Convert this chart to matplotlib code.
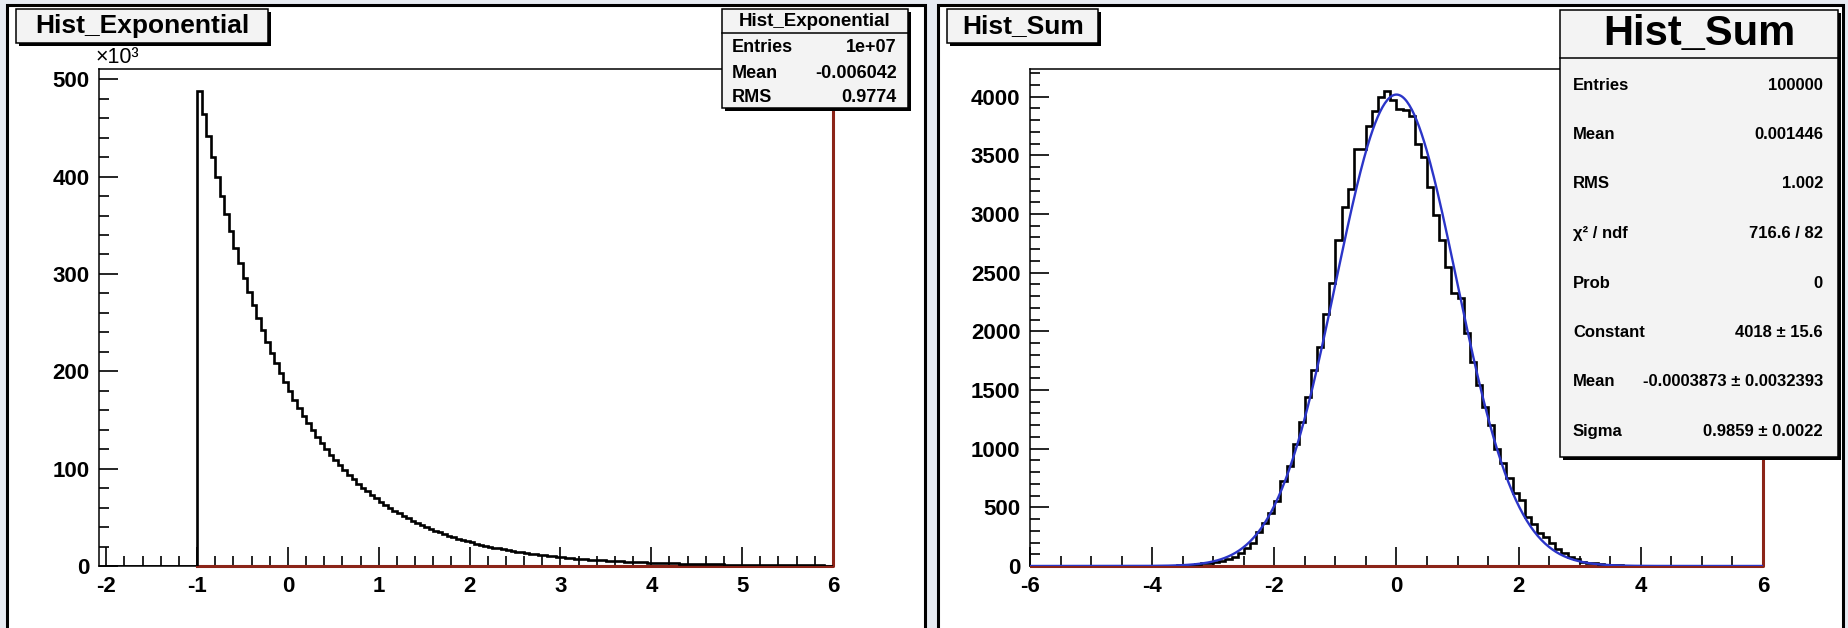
import numpy as np
import matplotlib
matplotlib.use("Agg")
from matplotlib import pyplot as plt
from matplotlib.patches import Rectangle
from matplotlib.ticker import MultipleLocator
from matplotlib.transforms import Bbox, TransformedBbox

plt.rcParams['font.family'] = ['Liberation Sans', 'DejaVu Sans']
plt.rcParams['font.weight'] = 'bold'
plt.rcParams['axes.unicode_minus'] = False

# ---- donnees ----

# Hist_Exponential : bins de 0.05 de -2 a 6, contenus en milliers
exp_debut = -2.0
exp_largeur = 0.05
exp_valeurs = [0.0] * 20 + [
    487.7, 463.9, 441.3, 419.8, 399.3, 379.8, 361.3, 343.7, 326.9, 311.0,
    295.8, 281.4, 267.6, 254.6, 242.2, 230.4, 219.1, 208.4, 198.3, 188.6,
    179.4, 170.7, 162.3, 154.4, 146.9, 139.7, 132.9, 126.4, 120.3, 114.4,
    108.8, 103.5, 98.5, 93.7, 89.1, 84.7, 80.6, 76.7, 72.9, 69.4,
    66.0, 62.8, 59.7, 56.8, 54.0, 51.4, 48.9, 46.5, 44.2, 42.1,
    40.0, 38.1, 36.2, 34.5, 32.8, 31.2, 29.7, 28.2, 26.8, 25.5,
    24.3, 23.1, 22.0, 20.9, 19.9, 18.9, 18.0, 17.1, 16.3, 15.5,
    14.7, 14.0, 13.3, 12.7, 12.1, 11.5, 10.9, 10.4, 9.9, 9.4,
    8.9, 8.5, 8.1, 7.7, 7.3, 7.0, 6.6, 6.3, 6.0, 5.7,
    5.4, 5.2, 4.9, 4.7, 4.4, 4.2, 4.0, 3.8, 3.6, 3.5,
    3.3, 3.1, 3.0, 2.8, 2.7, 2.6, 2.4, 2.3, 2.2, 2.1,
    2.0, 1.9, 1.8, 1.7, 1.6, 1.55, 1.5, 1.4, 1.3, 1.25,
    1.2, 1.15, 1.1, 1.0, 1.0, 0.95, 0.9, 0.85, 0.8, 0.78,
    0.73, 0.7, 0.66, 0.63, 0.6, 0.57, 0.54, 0.52, 0.49, 0.47]
exp_stats_noms = ["Entries", "Mean", "RMS"]
exp_stats_vals = ["1e+07", "-0.006042", "0.9774"]
# fonction rouge (plate a zero puis verticale a x=6)
rouge_exp_x = [-1.0, 6.0, 6.0]
rouge_exp_y = [0.0, 0.0, 1000.0]

# Hist_Sum : bins de 0.1 de -6 a 6
sum_debut = -6.0
sum_largeur = 0.1
sum_valeurs = [
    0, 0, 0, 0, 0, 0, 0, 0, 0, 0,
    0, 0, 0, 0, 0, 0, 0, 0, 0, 0,
    1, 1, 2, 3, 5, 7, 11, 17, 23, 28,
    37, 45, 60, 80, 114, 150, 193, 292, 369, 449,
    554, 727, 854, 1039, 1229, 1442, 1670, 1868, 2152, 2408,
    2777, 3061, 3217, 3550, 3558, 3751, 3878, 3998, 4049, 3975,
    3898, 3884, 3833, 3600, 3487, 3231, 2990, 2777, 2550, 2323,
    2280, 1990, 1740, 1542, 1357, 1201, 994, 875, 747, 619,
    562, 420, 358, 278, 250, 193, 142, 108, 80, 57,
    37, 28, 23, 17, 11, 8, 5, 4, 3, 2,
    1, 1, 0, 0, 1, 0, 0, 1, 1, 0,
    1, 0, 0, 0, 1, 0, 0, 1, 0, 0]
sum_stats_noms = ["Entries", "Mean", "RMS", "\u03c7\u00b2 / ndf", "Prob",
                  "Constant", "Mean", "Sigma"]
sum_stats_vals = ["100000", "0.001446", "1.002", "716.6 / 82", "0",
                  "4018 \u00b1 15.6", "-0.0003873 \u00b1 0.0032393",
                  "0.9859 \u00b1 0.0022"]
fit_constante = 4018.0
fit_moyenne = -0.0003873
fit_sigma = 0.9859
rouge_sum_x = [-6.0, 6.0, 6.0]
rouge_sum_y = [0.0, 0.0, 10000.0]

# ---- figure ----
L, H = 1849, 628
fig = plt.figure(figsize=(L / 100, H / 100), dpi=100)
fig.patch.set_facecolor('#e7ebf2')
ROUGE = '#8b2418'


def fx(px):
    return px / L


def fy(py):
    return 1 - py / H


def rect_px(x0, y0, x1, y1, **kw):
    r = Rectangle((fx(x0), fy(y1)), fx(x1) - fx(x0), fy(y0) - fy(y1),
                  transform=fig.transFigure, **kw)
    fig.add_artist(r)
    return r


def boite(x0, y0, x1, y1, fond='#f3f3f3'):
    # ombre puis boite
    rect_px(x0 + 3, y0 + 3, x1 + 3, y1 + 3, fc='black', ec='none', zorder=5)
    rect_px(x0, y0, x1, y1, fc=fond, ec='black', lw=1.1, zorder=6)


# pads
rect_px(7, 5, 925, 660, fc='white', ec='black', lw=2.2, zorder=-1)
rect_px(938, 5, 1843, 660, fc='white', ec='black', lw=2.2, zorder=-1)


def preparer_axe(ax):
    ax.set_facecolor('none')
    for s in ['left', 'top', 'bottom', 'right']:
        ax.spines[s].set_linewidth(1.1)
    ax.spines['right'].set_visible(False)
    ax.tick_params(which='both', direction='in', top=False, right=False,
                   labelsize=16, width=1.2, pad=7)
    ax.tick_params(which='major', length=14)
    ax.tick_params(which='minor', length=7)


def ligne_rouge(ax, x, y):
    # on laisse deborder un peu a droite et en bas pour garder toute l'epaisseur
    lig, = ax.plot(x, y, color=ROUGE, lw=2.2, zorder=2.6)
    lig.set_clip_box(TransformedBbox(Bbox([[0, -0.01], [1.01, 1]]),
                                     ax.transAxes))


# ---- Hist_Exponential ----
ax1 = fig.add_axes([fx(99), fy(566), fx(833) - fx(99), fy(69) - fy(566)])
preparer_axe(ax1)
bords = exp_debut + exp_largeur * np.arange(len(exp_valeurs) + 1)
ligne_rouge(ax1, rouge_exp_x, rouge_exp_y)
ax1.stairs(exp_valeurs, bords, color='black', lw=1.9, baseline=0, zorder=3)
ax1.set_xlim(-2.08, 6)
ax1.set_ylim(0, 510.5)
ax1.xaxis.set_major_locator(MultipleLocator(1))
ax1.xaxis.set_minor_locator(MultipleLocator(0.2))
ax1.yaxis.set_major_locator(MultipleLocator(100))
ax1.yaxis.set_minor_locator(MultipleLocator(20))
fig.text(fx(96), fy(68), '\u00d710\u00b3', fontsize=15.5, fontweight='normal',
         ha='left', va='bottom')

boite(16, 9, 268, 43)
fig.text(fx(142), fy(26), 'Hist_Exponential', fontsize=19, ha='center',
         va='center', zorder=7)

boite(722, 9, 908, 108)
fig.add_artist(plt.Line2D([fx(722), fx(908)], [fy(33), fy(33)],
                          transform=fig.transFigure, color='black', lw=1.1,
                          zorder=7))
fig.text(fx(815), fy(21), 'Hist_Exponential', fontsize=13.5, ha='center',
         va='center', zorder=7)
for k, (nom, val) in enumerate(zip(exp_stats_noms, exp_stats_vals)):
    yy = fy(48 + 25 * k)
    fig.text(fx(732), yy, nom, fontsize=13, ha='left', va='center', zorder=7)
    fig.text(fx(897), yy, val, fontsize=13, ha='right', va='center', zorder=7)

# ---- Hist_Sum ----
ax2 = fig.add_axes([fx(1030), fy(566), fx(1763) - fx(1030), fy(69) - fy(566)])
preparer_axe(ax2)
bords2 = sum_debut + sum_largeur * np.arange(len(sum_valeurs) + 1)
ligne_rouge(ax2, rouge_sum_x, rouge_sum_y)
ax2.stairs(sum_valeurs, bords2, color='black', lw=1.9, baseline=0, zorder=3)
xf = np.linspace(sum_debut, -sum_debut, 600)
yf = fit_constante * np.exp(-0.5 * ((xf - fit_moyenne) / fit_sigma) ** 2)
ax2.plot(xf, yf, color='#2b35c8', lw=1.7, zorder=4)
ax2.set_xlim(-6, 6)
ax2.set_ylim(0, 4236)
ax2.xaxis.set_major_locator(MultipleLocator(2))
ax2.xaxis.set_minor_locator(MultipleLocator(0.5))
ax2.yaxis.set_major_locator(MultipleLocator(500))
ax2.yaxis.set_minor_locator(MultipleLocator(100))

boite(947, 9, 1098, 43)
fig.text(fx(1023), fy(26), 'Hist_Sum', fontsize=19, ha='center',
         va='center', zorder=7)

boite(1560, 10, 1838, 457)
fig.add_artist(plt.Line2D([fx(1560), fx(1838)], [fy(58), fy(58)],
                          transform=fig.transFigure, color='black', lw=1.1,
                          zorder=7))
fig.text(fx(1699), fy(34), 'Hist_Sum', fontsize=30, ha='center',
         va='center', zorder=7)
for k, (nom, val) in enumerate(zip(sum_stats_noms, sum_stats_vals)):
    yy = fy(85 + 49.5 * k)
    fig.text(fx(1573), yy, nom, fontsize=12, ha='left', va='center', zorder=7)
    fig.text(fx(1823), yy, val, fontsize=12, ha='right', va='center', zorder=7)

fig.savefig('out.png', dpi=100)
